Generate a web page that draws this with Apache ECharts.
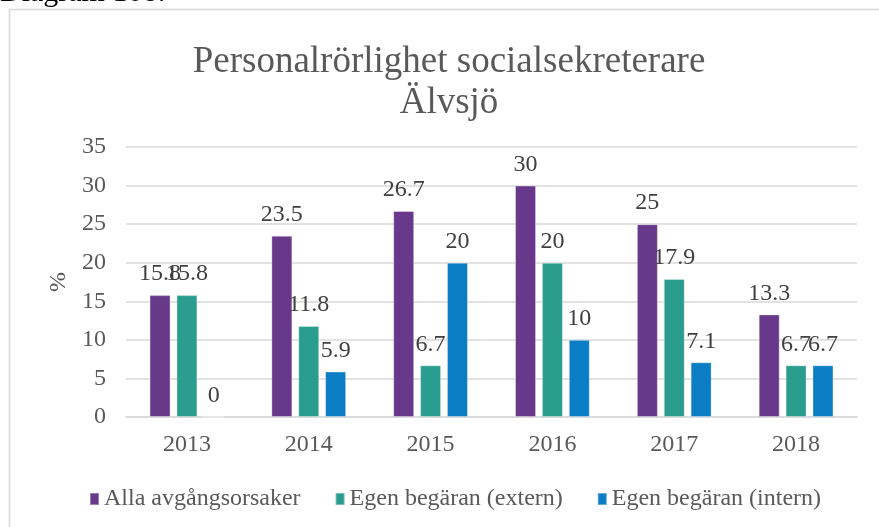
<!DOCTYPE html>
<html>
<head>
<meta charset="utf-8">
<script src="https://cdn.jsdelivr.net/npm/echarts@6/dist/echarts.min.js"></script>
<style>
  html, body { margin: 0; padding: 0; background: #fff; overflow: hidden; }
  #main { width: 879px; height: 527px; }
</style>
</head>
<body>
<div id="main"></div>
<script>
// data
const years = ['2013', '2014', '2015', '2016', '2017', '2018'];
const allaOrsaker = [15.8, 23.5, 26.7, 30, 25, 13.3];
const egenExtern = [15.8, 11.8, 6.7, 20, 17.9, 6.7];
const egenIntern = [0, 5.9, 20, 10, 7.1, 6.7];
const seriesNames = ['Alla avgångsorsaker', 'Egen begäran (extern)', 'Egen begäran (intern)'];

const font = '"Liberation Serif", "Times New Roman", serif';
const myChart = echarts.init(document.getElementById('main'));

function barSeries(name, data, color) {
  return {
    name: name,
    type: 'bar',
    data: data,
    barWidth: 21,
    barGap: '28%',
    itemStyle: { color: color, borderColor: 'rgba(255,255,255,0.35)', borderWidth: 1 },
    label: {
      show: true,
      position: 'top',
      distance: 9,
      fontFamily: font,
      fontSize: 24,
      color: '#404040'
    }
  };
}

const option = {
  animation: false,
  textStyle: { fontFamily: font },
  color: ['#68398a', '#2a9d8f', '#0a7dc4'],
  title: {
    text: 'Personalrörlighet socialsekreterare\nÄlvsjö',
    left: 444,
    textAlign: 'center',
    top: 37,
    textStyle: {
      fontFamily: font,
      fontSize: 37,
      lineHeight: 41,
      fontWeight: 'normal',
      color: '#595959'
    }
  },
  graphic: [
    {
      type: 'rect',
      shape: { x: 9.5, y: 9.5, width: 1000, height: 700 },
      style: { fill: 'none', stroke: '#d9d9d9', lineWidth: 1.5 },
      silent: true
    },
    {
      type: 'text',
      left: 0,
      top: -22,
      style: { text: 'Diagram 108:', fontFamily: font, fontSize: 30, fill: '#000' }
    }
  ],
  legend: {
    bottom: 11,
    left: 84,
    icon: 'rect',
    itemWidth: 9,
    itemHeight: 12,
    itemGap: 34,
    textStyle: { fontFamily: font, fontSize: 24, color: '#595959' },
    data: seriesNames
  },
  grid: { left: 126, right: 22, top: 147, bottom: 110 },
  xAxis: {
    type: 'category',
    data: years,
    axisLine: { lineStyle: { color: '#d9d9d9', width: 1.5 } },
    axisTick: { show: false },
    axisLabel: { fontFamily: font, fontSize: 24, color: '#595959', margin: 16 }
  },
  yAxis: {
    type: 'value',
    min: 0,
    max: 35,
    interval: 5,
    name: '%',
    nameLocation: 'middle',
    nameGap: 55,
    nameRotate: 90,
    nameTextStyle: { fontFamily: font, fontSize: 24, color: '#595959' },
    axisLine: { show: false },
    axisTick: { show: false },
    splitLine: { lineStyle: { color: '#d9d9d9', width: 1.5 } },
    axisLabel: { fontFamily: font, fontSize: 24, color: '#595959', margin: 20 }
  },
  series: [
    barSeries(seriesNames[0], allaOrsaker, '#68398a'),
    barSeries(seriesNames[1], egenExtern, '#2a9d8f'),
    barSeries(seriesNames[2], egenIntern, '#0a7dc4')
  ]
};

myChart.setOption(option);
</script>
</body>
</html>
